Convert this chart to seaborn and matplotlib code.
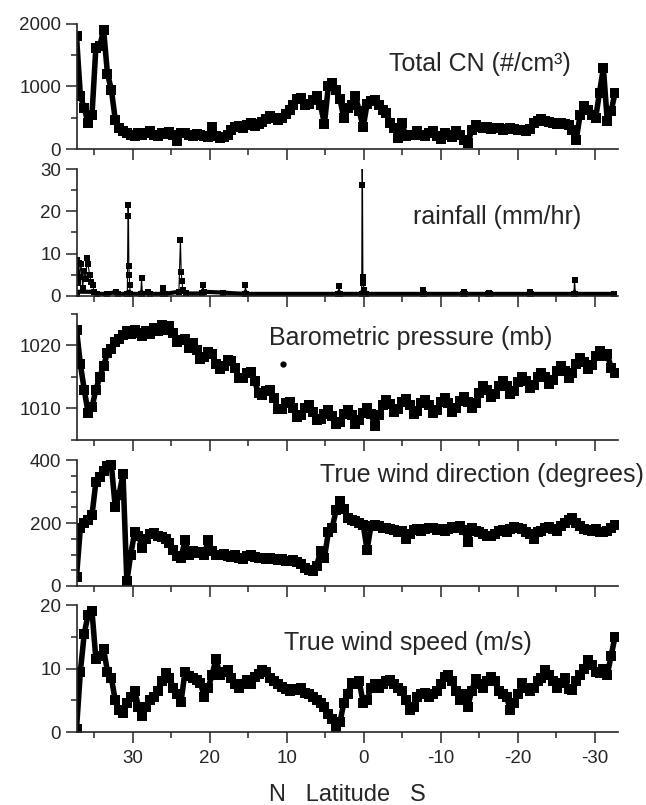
import numpy as np
import matplotlib
matplotlib.use("Agg")
import matplotlib.pyplot as plt
import seaborn as sns
from matplotlib.ticker import MultipleLocator, NullFormatter

# ship track samples, north -> south, every 0.5 deg of latitude
n_samples = 140
lat = np.linspace(37.3, -32.65, n_samples)

total_cn = [
    1800, 850, 650, 420, 550, 1620, 1650, 1900, 1200, 950,
    470, 330, 280, 260, 230, 210, 260, 220, 250, 280,
    230, 200, 260, 240, 270, 220, 120, 250, 260, 230,
    210, 240, 220, 200, 190, 350, 200, 180, 190, 230,
    300, 350, 370, 340, 380, 420, 360, 400, 430, 480,
    520, 500, 470, 500, 560, 620, 700, 800, 820, 700,
    720, 780, 850, 700, 400, 1000, 1050, 950, 800, 500,
    650, 700, 850, 600, 350, 720, 760, 780, 700, 620,
    580, 420, 330, 180, 420, 200, 230, 220, 280, 230,
    200, 250, 280, 200, 160, 250, 220, 190, 280, 220,
    150, 90, 300, 380, 350, 330, 350, 320, 330, 340,
    300, 320, 330, 320, 300, 310, 280, 320, 420, 450,
    480, 440, 430, 410, 400, 420, 400, 380, 300, 150,
    550, 680, 620, 540, 500, 900, 1300, 450, 600, 900,
]

pressure = [
    1022.5, 1017.0, 1013.0, 1009.3, 1010.2, 1013.0, 1015.0, 1016.8, 1018.8, 1019.5,
    1020.5, 1021.0, 1021.6, 1022.3, 1021.9, 1022.5, 1022.0, 1021.5, 1022.3, 1021.9,
    1022.8, 1022.3, 1023.2, 1022.5, 1023.1, 1022.0, 1020.6, 1020.9, 1021.0, 1019.6,
    1020.4, 1019.3, 1017.8, 1018.1, 1019.0, 1018.6, 1017.1, 1016.2, 1016.8, 1017.7,
    1017.5, 1016.4, 1014.8, 1014.9, 1015.7, 1015.8, 1014.3, 1012.4, 1012.1, 1012.8,
    1013.0, 1011.7, 1009.9, 1009.9, 1010.8, 1011.1, 1010.0, 1008.6, 1008.9, 1010.0,
    1010.5, 1009.5, 1008.1, 1008.3, 1009.2, 1009.7, 1008.8, 1007.5, 1007.9, 1009.1,
    1009.7, 1008.9, 1007.6, 1008.1, 1009.3, 1010.0, 1009.2, 1007.3, 1008.9, 1010.5,
    1011.4, 1010.7, 1009.5, 1009.9, 1011.0, 1011.5, 1010.5, 1009.2, 1009.6, 1010.8,
    1011.4, 1010.5, 1009.3, 1009.7, 1011.0, 1011.6, 1010.8, 1009.5, 1010.0, 1011.2,
    1011.9, 1011.1, 1010.1, 1010.9, 1012.5, 1013.5, 1012.9, 1011.8, 1012.3, 1013.6,
    1014.3, 1013.5, 1012.3, 1012.8, 1014.2, 1015.0, 1014.3, 1013.2, 1013.7, 1015.0,
    1015.7, 1015.0, 1013.9, 1014.5, 1015.9, 1016.7, 1016.0, 1014.9, 1015.6, 1017.1,
    1018.0, 1017.4, 1016.3, 1016.9, 1018.3, 1019.1, 1018.4, 1018.6, 1016.5, 1015.6,
]

wind_dir = [
    30, 185, 200, 208, 225, 330, 346, 365, 380, 384,
    250, 290, 355, 15, 100, 170, 160, 120, 150, 165,
    168, 160, 155, 150, 135, 115, 95, 90, 145, 100,
    110, 105, 108, 100, 145, 110, 100, 98, 102, 95,
    92, 100, 90, 85, 95, 100, 92, 88, 90, 85,
    88, 85, 82, 85, 80, 78, 82, 75, 70, 58,
    52, 48, 65, 110, 90, 170, 185, 240, 270, 245,
    215, 210, 205, 200, 195, 115, 190, 195, 190, 185,
    185, 180, 178, 170, 175, 148, 165, 178, 180, 175,
    180, 183, 185, 178, 180, 175, 182, 188, 185, 190,
    178, 140, 185, 175, 170, 165, 160, 158, 165, 175,
    178, 170, 180, 188, 185, 180, 170, 165, 150, 170,
    175, 185, 188, 180, 175, 190, 200, 210, 215, 200,
    190, 180, 178, 175, 180, 172, 170, 175, 185, 195,
]

wind_speed = [
    0.5, 9.5, 15.5, 18.5, 19.0, 11.5, 12.0, 13.0, 9.5, 8.5,
    5.0, 3.5, 3.0, 4.5, 5.5, 6.5, 4.0, 2.5, 4.0, 5.0,
    5.5, 6.5, 8.0, 9.3, 8.5, 7.0, 6.0, 4.8, 9.5, 8.8,
    8.5, 8.2, 7.7, 5.5, 7.0, 9.0, 11.5, 9.0, 9.5, 9.8,
    8.5, 7.5, 7.0, 7.5, 8.2, 7.5, 8.7, 9.2, 9.8, 9.5,
    8.5, 8.0, 7.5, 7.1, 6.8, 6.5, 6.8, 6.6, 7.0, 6.2,
    6.0, 5.5, 5.0, 4.5, 4.0, 2.8, 2.0, 0.8, 1.5, 4.6,
    6.0, 7.7, 7.5, 8.0, 4.5, 5.0, 7.0, 7.5, 7.0, 7.5,
    8.0, 8.2, 7.5, 7.0, 6.5, 5.0, 3.5, 4.0, 5.5, 6.0,
    6.1, 5.5, 6.0, 6.5, 7.5, 8.7, 9.0, 8.0, 6.5, 5.0,
    6.0, 4.0, 6.5, 8.3, 7.5, 7.0, 8.0, 8.7, 8.0, 6.5,
    6.0, 5.5, 3.5, 4.5, 6.0, 7.7, 7.0, 6.5, 7.0, 8.0,
    8.5, 9.8, 9.0, 8.0, 7.0, 7.7, 8.5, 6.8, 6.6, 8.0,
    9.0, 10.0, 11.3, 10.5, 9.5, 9.3, 10.0, 9.0, 12.0, 15.0,
]

# rain gauge only reported events, so it has its own latitudes
rain_lat = [
    37.29, 37.2, 37.1, 37.0, 36.9, 36.7, 36.5, 36.3, 36.1, 35.9, 35.8, 35.6, 35.4, 35.2, 35.0, 34.7,
    33.3, 32.15, 31.9,
    30.7, 30.6, 30.55, 30.5, 30.45, 30.4, 30.3,
    28.95, 28.85, 28.75, 27.95, 27.75, 26.1, 26.0, 25.85,
    24.0, 23.8, 23.7, 23.6, 23.5, 23.1,
    21.0, 20.9, 20.7, 18.3, 15.45, 15.35, 15.25,
    3.3, 3.2, 3.1,
    0.25, 0.2, 0.15, 0.1, 0.05, -0.05, -0.25,
    -7.65, -7.75, -7.9, -12.9, -13.0, -13.15, -16.15, -16.22, -16.35,
    -21.55, -21.65, -21.8, -27.3, -27.4, -27.5, -32.5,
]
rain_val = [
    0.0, 8.5, 3.0, 7.8, 4.5, 7.5, 2.0, 6.0, 4.0, 9.0, 7.5, 5.0, 3.3, 2.5, 1.0, 0.5,
    0.5, 1.0, 0.5,
    0.5, 21.5, 19.0, 7.0, 5.0, 2.5, 0.5,
    0.5, 4.2, 0.5, 1.0, 0.5, 0.5, 2.0, 0.5,
    1.0, 13.3, 5.7, 3.5, 1.5, 0.6,
    0.6, 2.5, 1.0, 0.8, 0.5, 2.5, 0.5,
    0.5, 2.3, 0.5,
    0.5, 34.0, 26.2, 4.5, 3.0, 1.5, 0.5,
    0.5, 1.5, 0.5, 0.5, 1.0, 0.5, 0.5, 0.8, 0.5,
    0.5, 1.0, 0.5, 0.5, 3.8, 0.5, 0.5,
]

# one stray pressure reading away from the track
odd_lat = [10.45]
odd_pressure = [1017.0]

sns.set_style("ticks")
plt.rcParams["font.family"] = ["Liberation Sans", "DejaVu Sans"]

fig = plt.figure(figsize=(6.46, 8.05), dpi=100)
W, H = 646, 805
left, right = 76.5, 617.7

# (values, ylim, major, minor, label, label x, label y, axes top px, axes bottom px)
panels = [
    (total_cn, (0, 2000), 1000, 500, "Total CN (#/cm³)", 0.578, 0.68, 24, 149),
    (rain_val, (0, 30), 10, 5, "rainfall (mm/hr)", 0.622, 0.62, 169, 296),
    (pressure, (1005, 1025), 10, 5, "Barometric pressure (mb)", 0.356, 0.81, 314, 440),
    (wind_dir, (0, 400), 200, 50, "True wind direction (degrees)", 0.450, 0.88, 460, 586),
    (wind_speed, (0, 20), 10, 5, "True wind speed (m/s)", 0.383, 0.70, 605, 732),
]

mark = dict(color="black", marker="s", markeredgewidth=0,
            estimator=None, sort=False, legend=False)

axes = []
for i, (vals, ylim, major, minor, label, tx, ty, top, bot) in enumerate(panels):
    ax = fig.add_axes([left / W, 1 - bot / H, (right - left) / W, (bot - top) / H])
    if i == 1:
        sns.lineplot(x=rain_lat, y=rain_val, ax=ax, lw=0.8, markersize=4.6, **mark)
        base = np.minimum(rain_val, 1.0)
        sns.lineplot(x=rain_lat, y=base, ax=ax, lw=3.0, color="black",
                     estimator=None, sort=False, legend=False)
    else:
        sns.lineplot(x=lat, y=vals, ax=ax, lw=4.0, markersize=7.0, **mark)
    if i == 2:
        ax.plot(odd_lat, odd_pressure, "o", color="black", markersize=3.5)

    ax.set_xlim(37.3, -33.0)
    ax.set_ylim(*ylim)
    ax.yaxis.set_major_locator(MultipleLocator(major))
    ax.yaxis.set_minor_locator(MultipleLocator(minor))
    ax.xaxis.set_major_locator(MultipleLocator(10))
    ax.xaxis.set_minor_locator(MultipleLocator(5))
    ax.tick_params(which="major", direction="out", length=8, width=1.1, labelsize=13.5, pad=3)
    ax.tick_params(which="minor", direction="out", length=4.5, width=1.1)
    ax.tick_params(axis="x", which="major", pad=5)
    sns.despine(ax=ax)
    for s in ("left", "bottom"):
        ax.spines[s].set_linewidth(1.2)
    ax.set_xlabel("")
    ax.set_ylabel("")
    if i < 4:
        ax.xaxis.set_major_formatter(NullFormatter())
    ax.text(tx, ty, label, transform=ax.transAxes, fontsize=18, ha="left", va="center")
    axes.append(ax)

axes[-1].set_xticks([30, 20, 10, 0, -10, -20, -30])
axes[-1].set_xticklabels(["30", "20", "10", "0", "-10", "-20", "-30"])
axes[-1].set_xlabel("N   Latitude   S", fontsize=17, labelpad=12)

fig.savefig("out.png", dpi=100, facecolor="white")
